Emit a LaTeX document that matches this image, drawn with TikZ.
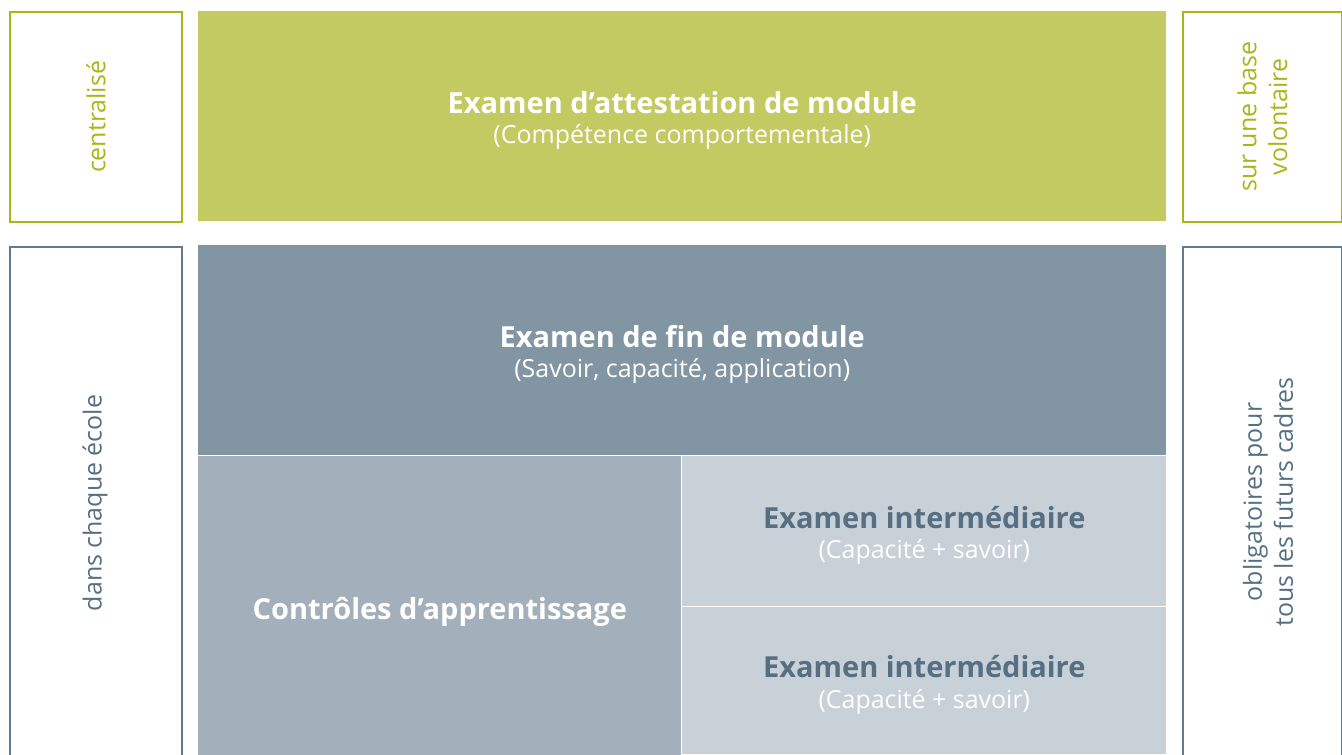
\documentclass[tikz,border=0pt]{standalone}
\usepackage{fontspec}
\setmainfont{Open Sans}
\usetikzlibrary{positioning}

\definecolor{modgreen}{HTML}{C4CA62}
\definecolor{labgreen}{HTML}{A6B71A}
\definecolor{slatedark}{HTML}{8195A3}
\definecolor{slatemid}{HTML}{A3AFBA}
\definecolor{slatelight}{HTML}{C8D0D8}
\definecolor{slatetext}{HTML}{566F83}
\definecolor{slateline}{HTML}{5E7A90}

\newcommand{\hdfont}{\fontsize{16.5}{17.2}\selectfont\bfseries}
\newcommand{\subfont}{\fontsize{14.2}{17.2}\selectfont}
\newcommand{\sidefont}{\fontsize{14.2}{17.6}\selectfont}

\tikzset{
  block/.style={inner sep=0pt, anchor=north west},
  blocktext/.style={inner sep=0pt, align=center, text=white,
    font=\fontsize{14.2}{17.2}\selectfont},
  sidebox/.style={draw, line width=1pt, inner sep=0pt, anchor=north west},
  sidetext/.style={rotate=90, align=center, font=\sidefont}
}

\begin{document}
\begin{tikzpicture}[x=0.02cm, y=-0.02cm]
\useasboundingbox (0,0) rectangle (1342,754);

% top row
\node [sidebox, draw=labgreen, minimum width=3.44cm, minimum height=4.2cm] (central) at (9,11) {};
\node [sidetext, text=labgreen] at (central.center) {centralisé};
\node [block, fill=modgreen, minimum width=19.36cm, minimum height=4.2cm] (attest) at (198,11) {};
\node [blocktext] at ([yshift=-0.08cm]attest.center)
  {{\hdfont Examen d’attestation de module}\\{\subfont (Compétence comportementale)}};
\node [sidebox, draw=labgreen, minimum width=3.18cm, minimum height=4.2cm] (volont) at (1182,11) {};
\node [sidetext, text=labgreen] at (volont.center) {sur une base\\volontaire};

% lower part
\node [sidebox, draw=slateline, minimum width=3.44cm, minimum height=10.3cm] (ecole) at (9,246) {};
\node [sidetext, text=slatetext] at (95,503) {dans chaque école};
\node [block, fill=slatedark, minimum width=19.36cm, minimum height=4.2cm] (finmod) at (198,245) {};
\node [blocktext] at ([yshift=-0.08cm]finmod.center)
  {{\hdfont Examen de fin de module}\\{\subfont (Savoir, capacité, application)}};
\node [block, fill=slatemid, minimum width=9.66cm, minimum height=6cm] (ctrl) at (198,456) {};
\node [blocktext] at ([yshift=-0.12cm]ctrl.center) {\hdfont Contrôles d’apprentissage};
\node [block, fill=slatelight, minimum width=9.68cm, minimum height=3cm] (inter1) at (682,456) {};
\node [blocktext] at ([yshift=-0.08cm]inter1.center)
  {{\hdfont\color{slatetext} Examen intermédiaire}\\{\subfont (Capacité + savoir)}};
\node [block, fill=slatelight, minimum width=9.68cm, minimum height=2.94cm] (inter2) at (682,607) {};
\node [blocktext] at ([yshift=-0.08cm]inter2.center)
  {{\hdfont\color{slatetext} Examen intermédiaire}\\{\subfont (Capacité + savoir)}};
\node [sidebox, draw=slateline, minimum width=3.18cm, minimum height=10.3cm] (cadres) at (1182,246) {};
\node [sidetext, text=slatetext] at (1268,502) {obligatoires pour\\tous les futurs cadres};
\end{tikzpicture}
\end{document}
